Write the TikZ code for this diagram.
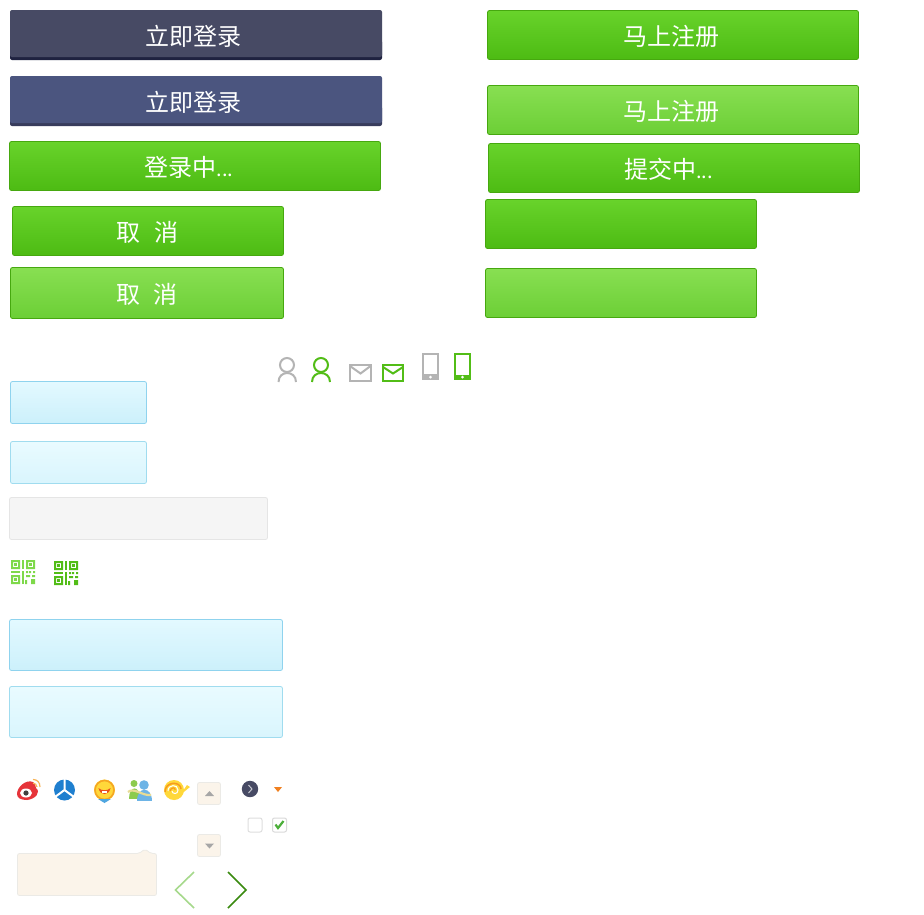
\documentclass[tikz,border=0pt]{standalone}
\usepackage{fontspec}
\newfontfamily\cjk{Noto Sans CJK SC}
\definecolor{navydark}{HTML}{474A64}
\definecolor{navystripe}{HTML}{1F2240}
\definecolor{navylight}{HTML}{4B557F}
\definecolor{navyshade}{HTML}{383C5C}
\definecolor{grassmark}{HTML}{52BD17}
\definecolor{grasspale}{HTML}{7ED94A}
\definecolor{grassline}{HTML}{46A80F}
\definecolor{grasstop}{HTML}{68D32B}
\definecolor{grassfoot}{HTML}{4DBB13}
\definecolor{paletop}{HTML}{88DF52}
\definecolor{palefoot}{HTML}{6CCF36}
\definecolor{icelineA}{HTML}{8FD3EE}
\definecolor{icetopA}{HTML}{E3F9FF}
\definecolor{icefootA}{HTML}{CCF0FB}
\definecolor{icelineB}{HTML}{A0DCEF}
\definecolor{icetopB}{HTML}{E9FBFF}
\definecolor{icefootB}{HTML}{D9F5FD}
\definecolor{creamfill}{HTML}{FBF4EA}
\definecolor{creamline}{HTML}{EBEAE6}
\definecolor{iconline}{HTML}{B4B4B4}
\definecolor{weibored}{HTML}{E6343A}
\definecolor{wifiorange}{HTML}{F7B55A}
\definecolor{wheelblue}{HTML}{1F7FCF}
\definecolor{faceyellow}{HTML}{FFD83A}
\definecolor{facerim}{HTML}{F5A623}
\definecolor{tailblue}{HTML}{4FA6E0}
\definecolor{mouthred}{HTML}{E8501E}
\definecolor{mangreen}{HTML}{8CCB4E}
\definecolor{manblue}{HTML}{6DB4E6}
\definecolor{ribbontan}{HTML}{E8DC95}
\definecolor{swirlorange}{HTML}{F79A1E}
\definecolor{checkgreen}{HTML}{4CAF3A}
\definecolor{chevpale}{HTML}{A6D98C}
\definecolor{chevdark}{HTML}{3A8A10}
\definecolor{arroworange}{HTML}{F08020}
\tikzset{
  x=1pt, y=-1pt,
  btn/.style={rounded corners=2pt, inner sep=0pt, outer sep=0pt, minimum height=#1},
  btn/.default=49pt,
  btntext/.style={inner sep=0pt, text=white, font=\cjk\fontsize{24}{28}\selectfont},
  greenbtn/.style={btn, draw=grassline, line width=.8pt, top color=grasstop, bottom color=grassfoot},
  palebtn/.style={btn=#1, draw=grassline, line width=.8pt, top color=paletop, bottom color=palefoot},
  palebtn/.default=49pt,
  field/.style={rounded corners=2pt, line width=.8pt},
  bluefield/.style={field, draw=icelineA, top color=icetopA, bottom color=icefootA},
  softfield/.style={field, draw=icelineB, top color=icetopB, bottom color=icefootB},
  creambox/.style={field, draw=creamline, fill=creamfill},
}
\newcommand{\smalldots}{{\fontsize{20}{24}\selectfont...}}
% one qr mark, drawn from its upper left corner
\newcommand{\qrmark}[1]{
\fill[#1,even odd rule] (0,0) rectangle (9,9) (2,2) rectangle (7,7);
\fill[#1] (3,3) rectangle (6,6);
\fill[#1,even odd rule] (15,0) rectangle (24,9) (17,2) rectangle (22,7);
\fill[#1] (18,3) rectangle (21,6);
\fill[#1,even odd rule] (0,15) rectangle (9,24) (2,17) rectangle (7,22);
\fill[#1] (3,18) rectangle (6,21);
\fill[#1] (11,0) rectangle (13,9);
\fill[#1] (0,11) rectangle (9,13);
\fill[#1] (11,11) rectangle (13,24);
\fill[#1] (15,11) rectangle (17,13) (18,11) rectangle (20,13) (22,11) rectangle (24,13);
\fill[#1] (15,15) rectangle (19,17) (21,15) rectangle (24,17);
\fill[#1] (14,20) rectangle (16,24) (20,19) rectangle (24,24);
}
\begin{document}
\begin{tikzpicture}
\useasboundingbox[fill=white] (0,0) rectangle (924,914);

% dark buttons
\fill[navystripe,rounded corners=2pt] (10,40) rectangle (382,60);
\node[btn=47pt,minimum width=372pt,fill=navydark] (logindark) at (196,33.5) {};
\node[btntext] (logindarktext) at (193,36) {立即登录};
\fill[navyshade,rounded corners=2pt] (10,106) rectangle (382,126);
\node[btn=47pt,minimum width=372pt,fill=navylight] (loginlight) at (196,99.5) {};
\node[btntext] (loginlighttext) at (193,102) {立即登录};

% green buttons
\node[greenbtn,minimum width=371pt] (loginbusy) at (195,166) {};
\node[btntext] (loginbusytext) at (189,167) {登录中\smalldots};
\node[greenbtn,minimum width=371pt] (signup) at (673,35) {};
\node[btntext] (signuptext) at (671,36) {马上注册};
\node[palebtn,minimum width=371pt] (signuppale) at (673,110) {};
\node[btntext] (signuppaletext) at (671,111) {马上注册};
\node[greenbtn,minimum width=371pt] (signupbusy) at (674,168) {};
\node[btntext] (signupbusytext) at (668.5,169) {提交中\smalldots};
\node[greenbtn,minimum width=271pt] (cancel) at (148,231) {};
\node[btntext] (canceltext) at (147.5,232) {取\hspace{14pt}消};
\node[palebtn=51pt,minimum width=273pt] (cancelpale) at (147,293) {};
\node[btntext] (cancelpaletext) at (147,294) {取\hspace{14pt}消};
\node[greenbtn,minimum width=271pt] (blank) at (621,224) {};
\node[palebtn,minimum width=271pt] (blankpale) at (621,293) {};

% user, mail and phone icons
\begin{scope}[iconline,line width=2pt]
\draw (287,365) circle (7);
\draw (278.5,382) .. controls (278.5,370) and (296,370) .. (296,382);
\draw (350,365) rectangle (370.5,380.5);
\draw (350,366) -- (360.5,373.5) -- (370.5,366);
\fill (422,353) rectangle (439,380);
\fill[white] (424,355) rectangle (437,374);
\fill[white] (430.5,377) circle (1.5);
\end{scope}
\begin{scope}[grassmark,line width=2pt]
\draw (321,365) circle (7);
\draw (312,382) .. controls (312,370) and (330,370) .. (330,382);
\draw (383,365) rectangle (403,380.5);
\draw (383,367) -- (393,373.5) -- (403,367);
\fill (454,353) rectangle (471,380);
\fill[white] (456,355) rectangle (469,374.5);
\fill[white] (462.5,377) circle (1.5);
\end{scope}

% input fields
\path[bluefield] (10.5,381.5) rectangle (146.5,423.5);
\path[softfield] (10.5,441.5) rectangle (146.5,483.5);
\path[field,draw=black!10,fill=black!4] (9.5,497.5) rectangle (267.5,539.5);
\path[bluefield] (9.5,619.5) rectangle (282.5,670.5);
\path[softfield] (9.5,686.5) rectangle (282.5,737.5);

% qr marks
\begin{scope}[shift={(11,560)}]
\qrmark{grasspale}
\end{scope}
\begin{scope}[shift={(54,561)}]
\qrmark{grassmark}
\end{scope}

% social icons
\fill[weibored] (17,794) .. controls (17,787) and (26,779) .. (33,782) .. controls (36,784) and (35,786) .. (36,788) .. controls (41,792) and (36,799) .. (27,800) .. controls (21,800) and (17,798) .. (17,794) -- cycle;
\fill[white] (26,793) ellipse (6 and 4.5);
\fill[black!75] (26,793) circle (2.6);
\draw[wifiorange,line width=1.2pt] (33,779.5) .. controls (37,779.5) and (40,782) .. (40,787);
\draw[wifiorange,line width=1.2pt] (33,783) .. controls (35,783) and (37,785) .. (37,787);
\fill[wheelblue] (64.5,790) circle (10.5);
\draw[white,line width=2pt] (64.5,779) -- (64.5,790) -- (55,797) (64.5,790) -- (74,797);
\fill[faceyellow] (104.5,790) circle (10.5);
\draw[facerim,line width=1.6pt] (104.5,790) circle (9.5);
\fill[tailblue] (98,799) -- (111,799) -- (104.5,803) -- cycle;
\fill[mouthred] (98.5,788) .. controls (100,796) and (109,796) .. (110.5,788) .. controls (108,791) and (101,791) .. (98.5,788) -- cycle;
\fill[white] (102,791) rectangle (107,793);
\fill[mangreen] (134,783.5) circle (3.5);
\fill[mangreen] (129,799) .. controls (129,785) and (140,785) .. (140,799) -- cycle;
\fill[manblue] (144,785) circle (4.8);
\fill[manblue] (137,801) .. controls (137,786) and (152,786) .. (152,801) -- cycle;
\draw[ribbontan,line width=2.2pt] (128,792) .. controls (134,787) and (142,796) .. (151,795);
\fill[faceyellow] (174,790) circle (10);
\fill[faceyellow] (178,798) -- (187,785) -- (190,787) -- (174,800) -- cycle;
\draw[swirlorange,line width=1.5pt] (165,792) .. controls (165,781) and (181,781) .. (181,789);
\draw[white,line width=1pt] (168,791) .. controls (168,784) and (178,784) .. (178,790) .. controls (178,795) and (172,794) .. (172,791);
\draw[swirlorange,line width=1.2pt] (170,791) .. controls (171,787) and (176,787) .. (175,790);

% scroll buttons
\path[creambox] (197.5,782.5) rectangle (220.5,804.5);
\fill[black!35] (205,796) -- (209.5,791) -- (214,796) -- cycle;
\path[creambox] (197.5,834.5) rectangle (220.5,856.5);
\fill[black!35] (205,843.5) -- (214,843.5) -- (209.5,848.5) -- cycle;

% round arrow and small triangle
\fill[navydark] (250,789) circle (8.2);
\draw[white!70!navydark,line width=1pt] (248.5,785) -- (252,789) -- (248.5,793);
\fill[arroworange] (274,787) -- (282,787) -- (278,792) -- cycle;

% check boxes
\draw[field,black!13,line width=1pt] (248,818) rectangle (262,832);
\draw[field,black!15,line width=1pt] (272.5,818) rectangle (286.5,832);
\draw[checkgreen,line width=2.2pt] (275.5,824.5) -- (278,828) -- (283.5,821);

% tooltip
\path[creambox] (17.5,853.5) -- (139,853.5) -- (145,849) -- (151,853.5) -- (156.5,853.5) -- (156.5,895.5) -- (17.5,895.5) -- cycle;

% big chevrons
\draw[chevpale,line width=1.6pt] (194,872) -- (175.5,890) -- (194,908);
\draw[chevdark,line width=1.6pt] (228,872) -- (246,890) -- (228,908);
\end{tikzpicture}
\end{document}
